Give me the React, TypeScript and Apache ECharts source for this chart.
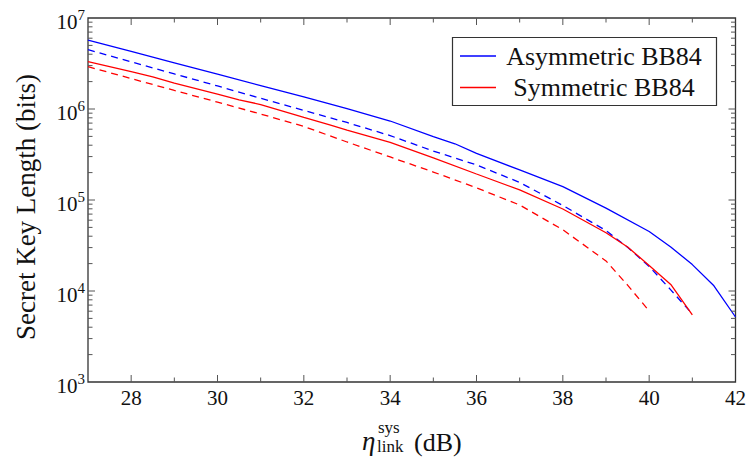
import React, { useEffect, useRef } from "react";
import * as echarts from "echarts";

// ---- data ----
const asymSolidX = [27, 28, 29, 30, 31, 32, 33, 34, 35, 35.5, 36, 37, 38, 39, 40, 40.5, 41, 41.5, 42];
const asymSolidY = [5.72e6, 4.3e6, 3.22e6, 2.41e6, 1.81e6, 1.36e6, 1.01e6, 7.38e5, 4.96e5, 4.15e5, 3.25e5, 2.14e5, 1.4e5, 8.13e4, 4.51e4, 3.05e4, 1.95e4, 1.14e4, 5.18e3];

const asymDashX = [27, 28, 29, 30, 31, 32, 33, 34, 35, 36, 37, 38, 39, 39.5, 40, 40.5, 41];
const asymDashY = [4.49e6, 3.3e6, 2.43e6, 1.79e6, 1.31e6, 9.66e5, 7.11e5, 5.1e5, 3.45e5, 2.43e5, 1.56e5, 8.71e4, 4.61e4, 3.02e4, 1.86e4, 1.03e4, 5.58e3];

const symSolidX = [27, 28, 28.5, 29, 30, 30.5, 31, 32, 32.6, 33, 34, 35, 36, 37, 38, 39, 39.5, 40, 40.5, 41];
const symSolidY = [3.31e6, 2.57e6, 2.26e6, 1.92e6, 1.46e6, 1.26e6, 1.12e6, 8.11e5, 6.7e5, 5.87e5, 4.3e5, 2.9e5, 1.93e5, 1.29e5, 7.96e4, 4.37e4, 3.05e4, 1.91e4, 1.18e4, 5.45e3];

const symDashX = [27, 28, 29, 30, 31, 32, 33, 34, 35, 36, 37, 38, 39, 39.5, 40];
const symDashY = [2.92e6, 2.16e6, 1.6e6, 1.19e6, 8.81e5, 6.43e5, 4.34e5, 2.97e5, 2.03e5, 1.36e5, 8.81e4, 4.71e4, 2.14e4, 1.16e4, 6.03e3];

const xMajorTicks = [28, 30, 32, 34, 36, 38, 40];
const xMinorTicks = [29, 31, 33, 35, 37, 39, 41];
const yMajorTicks = [1e4, 1e5, 1e6];
const yMinorTicks = [2e3, 3e3, 4e3, 5e3, 6e3, 7e3, 8e3, 9e3, 2e4, 3e4, 4e4, 5e4, 6e4, 7e4, 8e4, 9e4, 2e5, 3e5, 4e5, 5e5, 6e5, 7e5, 8e5, 9e5, 2e6, 3e6, 4e6, 5e6, 6e6, 7e6, 8e6, 9e6];

const legendNames = ["Asymmetric BB84", "Symmetric BB84"];
const yAxisTitle = "Secret Key Length (bits)";

const X_MIN = 27, X_MAX = 42, Y_MIN = 1e3, Y_MAX = 1e7;
const FONT = "Liberation Serif";
const TICK_COLOR = "#555";

const zip = (xs: number[], ys: number[]) => xs.map((x, i) => [x, ys[i]]);

export default function App() {
  const ref = useRef<HTMLDivElement>(null);
  useEffect(() => {
    if (!ref.current) return;
    const chart = echarts.init(ref.current, undefined, { renderer: "svg" });

    const xTickData = [
      ...xMajorTicks.map((v) => [v, Y_MIN, 1]),
      ...xMinorTicks.map((v) => [v, Y_MIN, 0]),
    ];
    const yTickData = [
      ...yMajorTicks.map((v) => [X_MIN, v, 1]),
      ...yMinorTicks.map((v) => [X_MIN, v, 0]),
    ];

    const lineSeries = (name: string, data: number[][], color: string, dashed: boolean) => ({
      name,
      type: "line",
      data,
      showSymbol: false,
      symbol: "none",
      clip: true,
      lineStyle: { color, width: 1.3, type: dashed ? [7, 5] : "solid" },
      itemStyle: { color },
      z: 3,
    });

    const txt = (extra: any) => ({ fontFamily: FONT, fill: "#111", ...extra });

    const option: any = {
      animation: false,
      textStyle: { fontFamily: FONT },
      grid: { left: 88, right: 13, top: 18, bottom: 78, show: true, borderColor: "#333", borderWidth: 1.3, backgroundColor: "transparent" },
      xAxis: {
        type: "value",
        min: X_MIN,
        max: X_MAX,
        interval: 1,
        axisLine: { show: false },
        axisTick: { show: false },
        splitLine: { show: false },
        axisLabel: {
          formatter: (v: number) => (Math.round(v) % 2 === 0 ? String(Math.round(v)) : ""),
          fontFamily: FONT,
          fontSize: 21,
          color: "#111",
          margin: 5,
        },
      },
      yAxis: {
        type: "log",
        logBase: 10,
        min: Y_MIN,
        max: Y_MAX,
        axisLine: { show: false },
        axisTick: { show: false },
        minorTick: { show: false },
        splitLine: { show: false },
        axisLabel: {
          margin: 3,
          padding: [7, 0, 0, 0],
          fontFamily: FONT,
          formatter: (v: number) => `{b|10}{e|${Math.round(Math.log10(v))}}`,
          rich: {
            b: { fontFamily: FONT, fontSize: 21, color: "#111", lineHeight: 29 },
            e: { fontFamily: FONT, fontSize: 15, color: "#111", lineHeight: 16, verticalAlign: "top" },
          },
        },
      },
      series: [
        lineSeries(legendNames[0], zip(asymSolidX, asymSolidY), "#0000ff", false),
        lineSeries(legendNames[0] + " (dashed)", zip(asymDashX, asymDashY), "#0000ff", true),
        lineSeries(legendNames[1], zip(symSolidX, symSolidY), "#ff0000", false),
        lineSeries(legendNames[1] + " (dashed)", zip(symDashX, symDashY), "#ff0000", true),
        {
          type: "custom",
          silent: true,
          z: 5,
          data: xTickData,
          renderItem: (params: any, api: any) => {
            const x = api.value(0);
            const major = api.value(2) === 1;
            const len = major ? 7 : 4.5;
            const b = api.coord([x, Y_MIN]);
            const t = api.coord([x, Y_MAX]);
            const st = { stroke: TICK_COLOR, lineWidth: 1 };
            return {
              type: "group",
              children: [
                { type: "line", shape: { x1: b[0], y1: b[1], x2: b[0], y2: b[1] - len }, style: st },
                { type: "line", shape: { x1: t[0], y1: t[1], x2: t[0], y2: t[1] + len }, style: st },
              ],
            };
          },
        },
        {
          type: "custom",
          silent: true,
          z: 5,
          data: yTickData,
          renderItem: (params: any, api: any) => {
            const y = api.value(1);
            const major = api.value(2) === 1;
            const len = major ? 7 : 4.5;
            const l = api.coord([X_MIN, y]);
            const r = api.coord([X_MAX, y]);
            const st = { stroke: TICK_COLOR, lineWidth: 1 };
            return {
              type: "group",
              children: [
                { type: "line", shape: { x1: l[0], y1: l[1], x2: l[0] + len, y2: l[1] }, style: st },
                { type: "line", shape: { x1: r[0], y1: r[1], x2: r[0] - len, y2: r[1] }, style: st },
              ],
            };
          },
        },
      ],
      graphic: [
        // y-axis title
        {
          type: "text",
          x: 26,
          y: 207,
          rotation: Math.PI / 2,
          style: txt({ text: yAxisTitle, fontSize: 27, align: "center", verticalAlign: "middle" }),
        },
        // x-axis title: eta^{sys}_{link} (dB)
        {
          type: "text",
          x: 362,
          y: 441,
          style: txt({ text: "\u03b7", fontStyle: "italic", fontSize: 27, align: "left", verticalAlign: "middle" }),
        },
        {
          type: "text",
          x: 378,
          y: 427,
          style: txt({ text: "sys", fontSize: 17, align: "left", verticalAlign: "middle" }),
        },
        {
          type: "text",
          x: 377,
          y: 446,
          style: txt({ text: "link", fontSize: 17, align: "left", verticalAlign: "middle" }),
        },
        {
          type: "text",
          x: 414,
          y: 442,
          style: txt({ text: "(dB)", fontSize: 26, align: "left", verticalAlign: "middle" }),
        },
        // legend
        {
          type: "rect",
          shape: { x: 452.5, y: 37.5, width: 264, height: 68 },
          style: { fill: "#fff", stroke: "#333", lineWidth: 1.2 },
          z: 10,
        },
        {
          type: "line",
          shape: { x1: 460, y1: 56, x2: 496, y2: 56 },
          style: { stroke: "#0000ff", lineWidth: 1.3 },
          z: 11,
        },
        {
          type: "line",
          shape: { x1: 460, y1: 87.5, x2: 496, y2: 87.5 },
          style: { stroke: "#ff0000", lineWidth: 1.3 },
          z: 11,
        },
        {
          type: "text",
          x: 604,
          y: 56,
          z: 11,
          style: txt({ text: legendNames[0], fontSize: 26, align: "center", verticalAlign: "middle" }),
        },
        {
          type: "text",
          x: 604,
          y: 87,
          z: 11,
          style: txt({ text: legendNames[1], fontSize: 26, align: "center", verticalAlign: "middle" }),
        },
      ],
    };

    chart.setOption(option);
    return () => chart.dispose();
  }, []);

  return (
    <div
      ref={ref}
      style={{ position: "fixed", left: 0, top: 0, width: 749, height: 460, background: "#fff" }}
    />
  );
}
